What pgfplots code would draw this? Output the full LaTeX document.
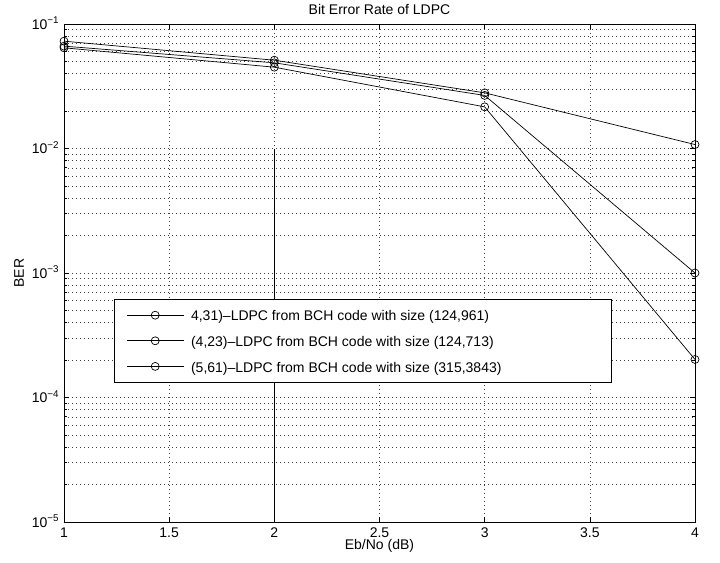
\documentclass[border=0pt]{standalone}
\usepackage{pgfplots}
\pgfplotsset{compat=1.18}
\usepackage{fontspec}
\setmainfont{Liberation Sans}
\newcommand\chartfont{\fontsize{14bp}{17bp}\selectfont}
\newcommand\lstrut{\rule[-3.5bp]{0pt}{17bp}}
\begin{document}
\chartfont
\begin{tikzpicture}[font=\chartfont]
\useasboundingbox (-64bp,-41bp) rectangle (656bp,522bp);
\begin{axis}[
    scale only axis,
    width=631bp, height=498bp,
    xmin=1, xmax=4,
    ymode=log, ymin=1e-5, ymax=1e-1,
    xtick={1,1.5,2,2.5,3,3.5,4},
    xticklabels={1,1.5,2,2.5,3,3.5,4},
    ytick={1e-5,1e-4,1e-3,1e-2,1e-1},
    yticklabels={10\textsuperscript{−5},10\textsuperscript{−4},10\textsuperscript{−3},10\textsuperscript{−2},10\textsuperscript{−1}},
    xticklabel style={font=\chartfont, anchor=base, yshift=-15bp},
    yticklabel style={font=\chartfont, anchor=base east, yshift=-5bp},
    tick align=inside, xtick pos=both, ytick pos=both,
    major tick length=5bp, minor tick length=3bp,
    tick style={black, line width=0.6pt},
    axis line style={black, line width=0.8pt},
    grid=both,
    major grid style={black!75, line width=0.5pt, dash pattern=on 0.8bp off 3.2bp},
    minor grid style={black!75, line width=0.5pt, dash pattern=on 0.8bp off 3.2bp},
    title={Bit Error Rate of LDPC},
    every axis title shift=0pt,
    title style={font=\chartfont, at={(axis description cs:0.5,1.0191)}, anchor=base, yshift=0pt},
    xlabel={Eb/No (dB)},
    xlabel style={font=\chartfont, at={(axis description cs:0.5,-0.0562)}, anchor=base},
    ylabel={BER},
    ylabel style={font=\chartfont, at={(axis description cs:-0.0634,0.5)}, anchor=base},
    legend style={at={(axis description cs:0.0792,0.4478)}, anchor=north west,
        font=\chartfont,
        draw=black, line width=0.8pt, fill=white,
        inner xsep=12bp, inner ysep=8bp, row sep=10bp, column sep=7bp,
        nodes={inner sep=0pt}},
    legend cell align=left,
    legend image code/.code={\draw[mark repeat=2,mark phase=2,#1] plot coordinates {(0bp,0bp) (28.5bp,0bp) (57bp,0bp)};},
]

\addplot[black, line width=0.7pt, mark=o, mark size=4bp, mark options={solid}]
    coordinates {(1,0.0728) (2,0.0512) (3,0.0280) (4,0.01076)};
\addlegendentry{\makebox[408bp][l]{\lstrut 4,31)--LDPC from BCH code with size (124,961)}}

\addplot[black, line width=0.7pt, mark=o, mark size=4bp, mark options={solid}]
    coordinates {(1,0.0664) (2,0.0488) (3,0.0267) (4,0.00100)};
\addlegendentry{\makebox[408bp][l]{\lstrut (4,23)--LDPC from BCH code with size (124,713)}}

\addplot[black, line width=0.7pt, mark=o, mark size=4bp, mark options={solid}]
    coordinates {(1,0.0644) (2,0.0450) (3,0.0216) (4,0.000202)};
\addlegendentry{\makebox[408bp][l]{\lstrut (5,61)--LDPC from BCH code with size (315,3843)}}

% stray vertical line at 2 dB
\addplot[black, line width=0.7pt, mark=none, forget plot] coordinates {(2,1e-2) (2,1e-5)};

\end{axis}
\end{tikzpicture}
\end{document}
